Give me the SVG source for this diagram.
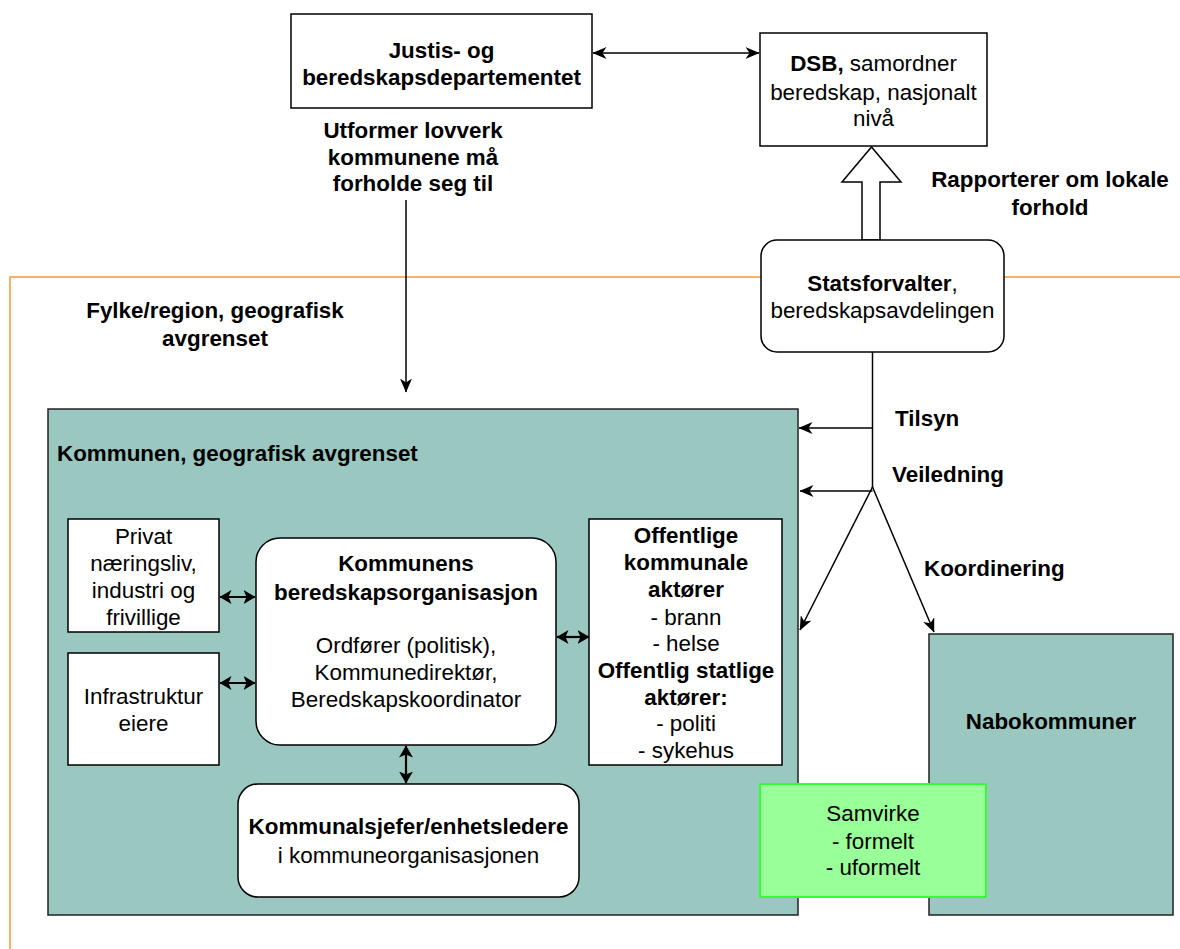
<svg xmlns="http://www.w3.org/2000/svg" width="1180" height="949" viewBox="0 0 1180 949">
<style>
.t{font-family:"Liberation Sans",Arial,sans-serif;font-size:22.4px;fill:#000;text-anchor:middle}
.b{font-weight:bold}
.l{text-anchor:start}
.box{fill:#fff;stroke:#000;stroke-width:1.5}
.teal{fill:#9AC7BF;stroke:#222;stroke-width:1.5}
.c{fill:none;stroke:#000;stroke-width:1.5}
.c2{fill:none;stroke:#000;stroke-width:2.2}
</style>
<defs>
<marker id="a" viewBox="0 0 14 12" refX="13.5" refY="6" markerWidth="14" markerHeight="12" markerUnits="userSpaceOnUse" orient="auto-start-reverse">
<path d="M0,0 L14,6 L0,12 L4,6 Z" fill="#000"/>
</marker>
<marker id="s" viewBox="0 0 12 14" refX="11.5" refY="7" markerWidth="12" markerHeight="14" markerUnits="userSpaceOnUse" orient="auto-start-reverse">
<path d="M0,0 L12,7 L0,14 L3,7 Z" fill="#000"/>
</marker>
</defs>
<rect id="fylke-frame" x="10" y="277" width="1200" height="700" fill="none" stroke="#FF9933" stroke-width="1.5"/>
<g id="fylke-label"><text class="t b" x="215" y="318">Fylke/region, geografisk</text><text class="t b" x="215" y="346">avgrenset</text></g>
<g id="jbd"><rect class="box" x="291" y="14" width="301" height="94"/><text class="t b" x="441.5" y="58">Justis- og</text><text class="t b" x="441.5" y="85">beredskapsdepartementet</text></g>
<g id="jbd-label"><text class="t b" x="413" y="138">Utformer lovverk</text><text class="t b" x="413" y="165">kommunene må</text><text class="t b" x="413" y="191">forholde seg til</text></g>
<g id="dsb"><rect class="box" x="760" y="33" width="227" height="113"/><text class="t" x="873.5" y="71"><tspan class="b">DSB,</tspan> samordner</text><text class="t" x="873.5" y="100">beredskap, nasjonalt</text><text class="t" x="873.5" y="126">nivå</text></g>
<g id="report-arrow"><polygon points="862,240 862,182 842,182 871.5,147 901,182 880,182 880,240" fill="#fff" stroke="#000" stroke-width="1.5"/></g>
<g id="report-label"><text class="t b" x="1050" y="187">Rapporterer om lokale</text><text class="t b" x="1050" y="215">forhold</text></g>
<g id="statsforvalter"><rect class="box" x="761" y="240" width="243" height="112" rx="16"/><text class="t" x="882.5" y="291"><tspan class="b">Statsforvalter</tspan>,</text><text class="t" x="882.5" y="318">beredskapsavdelingen</text></g>
<g id="kommunen"><rect class="teal" x="48" y="409" width="750" height="506"/><text class="t b l" x="57" y="461">Kommunen, geografisk avgrenset</text></g>
<g id="nabokommuner"><rect class="teal" x="929" y="634" width="244" height="281"/><text class="t b" x="1051" y="729">Nabokommuner</text></g>
<g id="privat"><rect class="box" x="68" y="519" width="151" height="113"/><text class="t" x="143.5" y="544">Privat</text><text class="t" x="143.5" y="571">næringsliv,</text><text class="t" x="143.5" y="598">industri og</text><text class="t" x="143.5" y="625">frivillige</text></g>
<g id="infrastruktur"><rect class="box" x="68" y="653" width="151" height="112"/><text class="t" x="143.5" y="704">Infrastruktur</text><text class="t" x="143.5" y="731">eiere</text></g>
<g id="beredskapsorg"><rect class="box" x="256" y="538" width="300" height="207" rx="24"/><text class="t b" x="406" y="571">Kommunens</text><text class="t b" x="406" y="600">beredskapsorganisasjon</text><text class="t" x="406" y="653">Ordfører (politisk),</text><text class="t" x="406" y="680">Kommunedirektør,</text><text class="t" x="406" y="707">Beredskapskoordinator</text></g>
<g id="offentlige"><rect class="box" x="589" y="519" width="193" height="246"/><text class="t b" x="686" y="543">Offentlige</text><text class="t b" x="686" y="570">kommunale</text><text class="t b" x="686" y="597">aktører</text><text class="t" x="686" y="625">- brann</text><text class="t" x="686" y="651">- helse</text><text class="t b" x="686" y="678">Offentlig statlige</text><text class="t b" x="686" y="705">aktører:</text><text class="t" x="686" y="731">- politi</text><text class="t" x="686" y="758">- sykehus</text></g>
<g id="kommunalsjefer"><rect class="box" x="238" y="784" width="341" height="113" rx="20"/><text class="t b" x="408.5" y="834">Kommunalsjefer/enhetsledere</text><text class="t" x="408.5" y="863">i kommuneorganisasjonen</text></g>
<g id="samvirke"><rect x="760" y="784" width="226" height="113" fill="#99FF99" stroke="#33FF33" stroke-width="2"/><text class="t" x="873" y="821">Samvirke</text><text class="t" x="873" y="849">- formelt</text><text class="t" x="873" y="875">- uformelt</text></g>
<g id="connectors">
<line class="c" x1="593" y1="53" x2="759" y2="53" marker-start="url(#a)" marker-end="url(#a)"/>
<line class="c" x1="406" y1="200" x2="406" y2="392" marker-end="url(#a)"/>
<line class="c" x1="872.5" y1="352" x2="872.5" y2="488"/>
<line class="c" x1="872.5" y1="428" x2="799" y2="428" marker-end="url(#a)"/>
<line class="c" x1="872.5" y1="491" x2="800" y2="491" marker-end="url(#a)"/>
<line class="c" x1="872.5" y1="487" x2="800" y2="630" marker-end="url(#a)"/>
<line class="c" x1="872.5" y1="487" x2="934" y2="632" marker-end="url(#a)"/>
<line class="c2" x1="220" y1="597" x2="255" y2="597" marker-start="url(#s)" marker-end="url(#s)"/>
<line class="c2" x1="220" y1="683" x2="255" y2="683" marker-start="url(#s)" marker-end="url(#s)"/>
<line class="c2" x1="557" y1="637" x2="589" y2="637" marker-start="url(#s)" marker-end="url(#s)"/>
<line class="c2" x1="406" y1="746" x2="406" y2="783" marker-start="url(#s)" marker-end="url(#s)"/>
</g>
<g id="labels"><text class="t b l" x="895" y="426">Tilsyn</text><text class="t b l" x="892" y="482">Veiledning</text><text class="t b l" x="924" y="576">Koordinering</text></g>
</svg>
